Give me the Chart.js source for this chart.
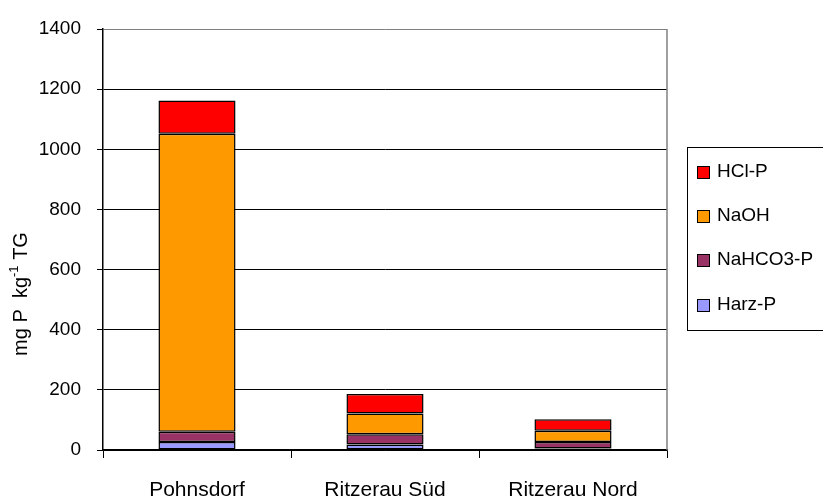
<!DOCTYPE html>
<html>
<head>
<meta charset="utf-8">
<script src="https://cdn.jsdelivr.net/npm/chart.js@4/dist/chart.umd.min.js"></script>
<style>
  html, body { margin: 0; padding: 0; background: #fff; }
  #wrap { width: 823px; height: 498px; position: relative; }
</style>
</head>
<body>
<div id="wrap"><canvas id="barChart"></canvas></div>
<script>
// P-Fraktionen je Standort (mg P kg-1 TG)
const standorte = ['Pohnsdorf', 'Ritzerau Süd', 'Ritzerau Nord'];
const harzP = [27, 18, 5];
const nahco3P = [34, 34, 22];
const naoh = [991, 69, 37];
const hclP = [110, 65, 38];
const yTicks = [0, 200, 400, 600, 800, 1000, 1200, 1400];

const FONT = 'Liberation Sans, Arial, sans-serif';

// Achsentitel mit hochgestellter -1
const yTitlePlugin = {
  id: 'yTitle',
  afterDraw(chart) {
    const ctx = chart.ctx;
    ctx.save();
    ctx.translate(21, 294);
    ctx.rotate(-Math.PI / 2);
    ctx.fillStyle = '#000';
    ctx.textBaseline = 'middle';
    const big = '20px ' + FONT;
    const small = '13px ' + FONT;
    const parts = [
      { t: 'mg P  kg', f: big, dy: 0 },
      { t: '-1', f: small, dy: -7 },
      { t: ' TG', f: big, dy: 0 }
    ];
    let w = 0;
    parts.forEach(p => { ctx.font = p.f; w += ctx.measureText(p.t).width; });
    let x = -w / 2;
    parts.forEach(p => {
      ctx.font = p.f;
      ctx.textAlign = 'left';
      ctx.fillText(p.t, x, p.dy);
      x += ctx.measureText(p.t).width;
    });
    ctx.restore();
  }
};

// Rahmen rechts und Legende mit Kasten
const framePlugin = {
  id: 'frame',
  afterDraw(chart) {
    const ctx = chart.ctx;
    const a = chart.chartArea;
    ctx.save();
    ctx.strokeStyle = '#808080';
    ctx.lineWidth = 1.5;
    ctx.beginPath();
    ctx.moveTo(a.right, a.top);
    ctx.lineTo(a.right, a.bottom);
    ctx.stroke();

    // Legende
    ctx.strokeStyle = '#000';
    ctx.lineWidth = 1;
    ctx.strokeRect(687.5, 147.5, 150, 183);
    const rows = chart.data.datasets.slice().reverse();
    const ys = [171, 215, 259, 304];
    ctx.font = '19px ' + FONT;
    ctx.textBaseline = 'middle';
    ctx.textAlign = 'left';
    rows.forEach((ds, i) => {
      ctx.fillStyle = ds.backgroundColor;
      ctx.fillRect(697, ys[i] - 5, 12, 12);
      ctx.strokeStyle = '#000';
      ctx.strokeRect(697.5, ys[i] - 4.5, 12, 12);
      ctx.fillStyle = '#000';
      ctx.fillText(ds.label, 717, ys[i] + 1);
    });
    ctx.restore();
  }
};

const ctx = document.getElementById('barChart').getContext('2d');

new Chart(ctx, {
  type: 'bar',
  data: {
    labels: standorte,
    datasets: [
      { label: 'Harz-P', data: harzP, backgroundColor: '#9999FF' },
      { label: 'NaHCO3-P', data: nahco3P, backgroundColor: '#993366' },
      { label: 'NaOH', data: naoh, backgroundColor: '#FF9900' },
      { label: 'HCl-P', data: hclP, backgroundColor: '#FF0000' }
    ].map(ds => Object.assign(ds, {
      borderColor: '#000',
      borderWidth: 1.5,
      borderSkipped: false,
      barPercentage: 0.82,
      categoryPercentage: 0.5
    }))
  },
  options: {
    responsive: true,
    maintainAspectRatio: false,
    animation: false,
    layout: { padding: { top: 29, right: 156, left: 0, bottom: 0 } },
    plugins: {
      legend: { display: false },
      tooltip: { enabled: false }
    },
    scales: {
      x: {
        stacked: true,
        afterFit(scale) { scale.height = 48; },
        grid: {
          drawOnChartArea: false,
          drawTicks: true,
          tickLength: 8,
          color: '#000',
          offset: true
        },
        border: { color: '#000', width: 1.5 },
        ticks: {
          color: '#000',
          font: { family: FONT, size: 21 },
          padding: 20,
          maxRotation: 0
        }
      },
      y: {
        stacked: true,
        min: 0,
        max: 1400,
        afterFit(scale) { scale.width = 103; },
        afterBuildTicks(scale) { scale.ticks = yTicks.map(v => ({ value: v })); },
        grid: {
          color: ctx => (ctx.tick && ctx.tick.value === 1400 ? '#808080' : '#000'),
          lineWidth: 1,
          tickLength: 6,
          tickColor: '#000'
        },
        border: { color: '#000', width: 1.5 },
        ticks: {
          color: '#000',
          font: { family: FONT, size: 19 },
          padding: 16,
          callback: v => String(v)
        }
      }
    }
  },
  plugins: [yTitlePlugin, framePlugin]
});
</script>
</body>
</html>
